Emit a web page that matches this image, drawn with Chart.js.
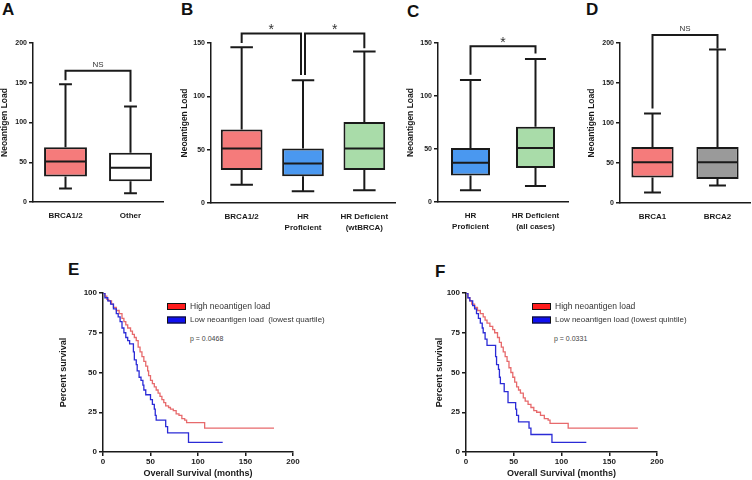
<!DOCTYPE html>
<html>
<head>
<meta charset="utf-8">
<script src="https://cdn.jsdelivr.net/npm/chart.js@4"></script>
<style>
  body { margin: 0; background: #fff; width: 752px; height: 480px; position: relative; overflow: hidden; font-family: 'Liberation Sans', Arial, sans-serif; }
  canvas { position: absolute; }
  .tag { position: absolute; font-weight: bold; font-size: 17px; line-height: 1; color: #111; }
  .pval { position: absolute; font-size: 7px; line-height: 1; color: #444; }
</style>
</head>
<body>
<div class="tag" style="left:2px;top:1px">A</div>
<div class="tag" style="left:181px;top:1px">B</div>
<div class="tag" style="left:407px;top:3px">C</div>
<div class="tag" style="left:586px;top:1px">D</div>
<div class="tag" style="left:68px;top:261px">E</div>
<div class="tag" style="left:435px;top:263px">F</div>
<div class="pval" style="left:190px;top:335px">p = 0.0468</div>
<div class="pval" style="left:554px;top:335px">p = 0.0331</div>
<script>
// ---- panel A ----
const aLabels = ['BRCA1/2', 'Other'];
const aLow = [17, 11];
const aQ1 = [32, 26];
const aMed = [51, 43];
const aQ3 = [69, 62];
const aHigh = [148, 120];
const aBrackets = [{ from: 0, to: 1, top: 165, legs: [153, 126], mark: 'NS' }];

// ---- panel B ----
const bLabels = ['BRCA1/2', ['HR', 'Proficient'], ['HR Deficient', '(wtBRCA)']];
const bLow = [17, 11, 12];
const bQ1 = [31, 25, 31];
const bMed = [51, 37, 51];
const bQ3 = [69, 51, 76];
const bHigh = [146, 115, 142];
const bBrackets = [
  { from: 0, to: 1, top: 159, legs: [150, 120], mark: '*' },
  { from: 1, to: 2, top: 159, legs: [120, 145], mark: '*' }
];

// ---- panel C ----
const cLabels = [['HR', 'Proficient'], ['HR Deficient', '(all cases)']];
const cLow = [11, 15];
const cQ1 = [25, 32];
const cMed = [37, 51];
const cQ3 = [51, 71];
const cHigh = [115, 135];
const cBrackets = [{ from: 0, to: 1, top: 147, legs: [120, 140], mark: '*' }];

// ---- panel D ----
const dLabels = ['BRCA1', 'BRCA2'];
const dLow = [13, 22];
const dQ1 = [32, 30];
const dMed = [51, 51];
const dQ3 = [70, 70];
const dHigh = [112, 192];
const dBrackets = [{ from: 0, to: 1, top: 210, legs: [118, 193], mark: 'NS' }];

// ---- panel E (Kaplan-Meier, lowest quartile) ----
const eHighT = [0, 2, 4, 6, 9, 11, 14, 17, 20, 22, 24, 26, 29, 31, 33, 35, 37, 39, 41, 43, 45, 47, 48, 50, 52, 54, 56, 58, 60, 62, 64, 66, 69, 71, 74, 77, 80, 83, 86, 88, 107, 180];
const eHighS = [100, 98, 96, 95, 93, 91, 89, 87, 84, 82, 80, 78, 76, 74, 72, 70, 66, 63, 60, 57, 54, 51, 48, 45, 43, 41, 39, 37, 35, 33, 31, 29, 28, 27, 26, 24, 23, 21, 20, 18.5, 15, 15];
const eLowT = [0, 2, 5, 8, 11, 14, 16, 18, 20, 22, 24, 26, 28, 32, 33, 35, 36, 38, 40, 42, 43, 45, 50, 52, 54, 55, 56, 66, 68, 90, 126];
const eLowS = [100, 97, 95, 93, 90, 87, 85, 82, 78, 75, 72, 70, 68, 63, 58, 55, 51, 47, 45, 42, 39, 36, 33, 30, 27, 23, 20, 16, 12, 6, 6];

// ---- panel F (Kaplan-Meier, lowest quintile) ----
const fHighT = [0, 2, 4, 6, 9, 12, 15, 18, 20, 22, 25, 28, 30, 33, 35, 37, 39, 41, 43, 45, 47, 49, 51, 53, 55, 57, 60, 62, 65, 68, 71, 74, 78, 82, 86, 88, 107, 180];
const fHighS = [100, 97, 95, 93, 91, 89, 87, 85, 83, 81, 79, 77, 75, 72, 69, 66, 63, 60, 57, 53, 50, 47, 44, 41, 39, 37, 34, 32, 30, 28, 26, 25, 23, 21, 20, 18, 15, 15];
const fLowT = [0, 2, 4, 7, 9, 11, 13, 15, 17, 18, 20, 22, 31, 32, 34, 35, 36, 40, 44, 52, 53, 55, 66, 68, 90, 126];
const fLowS = [100, 97, 95, 92, 90, 87, 84, 81, 78, 75, 71, 67, 60, 55, 52, 47, 43, 38, 31, 27, 23, 19, 15, 11, 6, 6];

const INK = '#1a1a1a';
const FONT = "'Liberation Sans', Arial, sans-serif";

function addCanvas(left, top, w, h) {
  const c = document.createElement('canvas');
  c.width = w;
  c.height = h;
  c.style.left = left + 'px';
  c.style.top = top + 'px';
  c.style.width = w + 'px';
  c.style.height = h + 'px';
  document.body.appendChild(c);
  return c;
}

function noPad(s) {
  s.paddingLeft = 0; s.paddingRight = 0; s.paddingTop = 0; s.paddingBottom = 0;
}

function boxPanel(p) {
  const [cl, ct, cw, ch] = p.canvas;
  const [al, at, ar, ab] = p.area;
  const canvas = addCanvas(cl, ct, cw, ch);

  const boxDraw = {
    id: 'boxDraw',
    afterDatasetsDraw(chart) {
      const ctx = chart.ctx, y = chart.scales.y, x = chart.scales.x;
      const meta = chart.getDatasetMeta(0);
      ctx.save();
      ctx.strokeStyle = INK;
      ctx.lineWidth = 2;
      ctx.lineCap = 'butt';
      meta.data.forEach(function (bar, i) {
        const cx = bar.x, half = bar.width / 2, cap = bar.width * p.cap;
        const yHi = y.getPixelForValue(p.high[i]), yLo = y.getPixelForValue(p.low[i]);
        ctx.beginPath();
        ctx.moveTo(cx, y.getPixelForValue(p.q3[i])); ctx.lineTo(cx, yHi);
        ctx.moveTo(cx - cap, yHi); ctx.lineTo(cx + cap, yHi);
        ctx.moveTo(cx, y.getPixelForValue(p.q1[i])); ctx.lineTo(cx, yLo);
        ctx.moveTo(cx - cap, yLo); ctx.lineTo(cx + cap, yLo);
        const ym = y.getPixelForValue(p.med[i]);
        ctx.moveTo(cx - half + 1, ym); ctx.lineTo(cx + half - 1, ym);
        ctx.stroke();
      });
      // significance brackets
      p.brackets.forEach(function (b, k) {
        const shift = p.shifts ? p.shifts[k] : [0, 0];
        const x1 = x.getPixelForValue(b.from) + shift[0];
        const x2 = x.getPixelForValue(b.to) + shift[1];
        const yt = y.getPixelForValue(b.top);
        ctx.beginPath();
        ctx.moveTo(x1, y.getPixelForValue(b.legs[0]));
        ctx.lineTo(x1, yt);
        ctx.lineTo(x2, yt);
        ctx.lineTo(x2, y.getPixelForValue(b.legs[1]));
        ctx.stroke();
        ctx.fillStyle = '#333';
        ctx.textAlign = 'center';
        ctx.textBaseline = 'middle';
        if (b.mark === '*') {
          ctx.font = '14px ' + FONT;
          ctx.fillText('*', (x1 + x2) / 2, yt - 3);
        } else {
          ctx.font = '8px ' + FONT;
          ctx.fillText(b.mark, (x1 + x2) / 2, yt - 6);
        }
      });
      ctx.restore();
    }
  };

  new Chart(canvas, {
    type: 'bar',
    data: {
      labels: p.labels,
      datasets: [{
        data: p.q1.map(function (v, i) { return [v, p.q3[i]]; }),
        backgroundColor: p.colors,
        borderColor: INK,
        borderWidth: 2,
        borderSkipped: false,
        barPercentage: p.barPct,
        categoryPercentage: 1
      }]
    },
    options: {
      responsive: false,
      animation: false,
      layout: { padding: { left: 0, top: at - ct, right: cl + cw - ar, bottom: 0 } },
      plugins: { legend: { display: false }, tooltip: { enabled: false } },
      scales: {
        x: {
          grid: { display: false, drawTicks: false },
          border: { color: INK, width: 1.5 },
          ticks: { color: INK, padding: 8.5, maxRotation: 0, autoSkip: false, font: { family: FONT, size: 8, weight: 'bold', lineHeight: 1.35 } },
          afterFit: function (s) { s.height = ct + ch - ab; noPad(s); }
        },
        y: {
          min: 0,
          max: p.yMax,
          ticks: { stepSize: 50, color: INK, padding: 2, font: { family: FONT, size: 7, weight: 'bold' } },
          grid: { drawOnChartArea: false, tickLength: 4, color: INK, lineWidth: 1.5 },
          border: { color: INK, width: 1.5 },
          title: { display: true, text: 'Neoantigen Load', color: INK, padding: 0, font: { family: FONT, size: 8.5, weight: 'bold' } },
          afterFit: function (s) { s.width = al - cl; noPad(s); }
        }
      }
    },
    plugins: [boxDraw]
  });
}

function kmPanel(p) {
  const [cl, ct, cw, ch] = p.canvas;
  const [al, at, ar, ab] = p.area;
  const canvas = addCanvas(cl, ct, cw, ch);

  const kmLegend = {
    id: 'kmLegend',
    afterDraw(chart) {
      const ctx = chart.ctx, a = chart.chartArea;
      ctx.save();
      chart.data.datasets.forEach(function (ds) {
        const j = ds.legendRow;
        const bx = a.left + p.legendDx, by = a.top + 10 + j * 13.5;
        ctx.fillStyle = ds.swatch;
        ctx.fillRect(bx, by, 19, 7);
        ctx.strokeStyle = '#111';
        ctx.lineWidth = 1;
        ctx.strokeRect(bx + 0.5, by + 0.5, 18, 6);
        ctx.fillStyle = '#333';
        ctx.font = (j === 0 ? '8.5px ' : '8px ') + FONT;
        ctx.textAlign = 'left';
        ctx.textBaseline = 'middle';
        ctx.fillText(ds.label, bx + 23, by + 3.5);
      });
      ctx.restore();
    }
  };

  function pts(t, s) { return t.map(function (v, i) { return { x: v, y: s[i] }; }); }

  new Chart(canvas, {
    type: 'line',
    data: {
      datasets: [{
        label: 'High neoantigen load',
        data: pts(p.hiT, p.hiS),
        borderColor: '#e76a6c',
        swatch: '#ff1c1c',
        legendRow: 0,
        order: 2,
        borderWidth: 1.3,
        stepped: 'before',
        pointRadius: 0,
        fill: false
      }, {
        label: p.lowName,
        data: pts(p.loT, p.loS),
        borderColor: '#2b2bd6',
        swatch: '#1010f0',
        legendRow: 1,
        order: 1,
        borderWidth: 1.3,
        stepped: 'before',
        pointRadius: 0,
        fill: false
      }]
    },
    options: {
      responsive: false,
      animation: false,
      layout: { padding: { left: 0, top: at - ct, right: cl + cw - ar, bottom: 0 } },
      plugins: { legend: { display: false }, tooltip: { enabled: false } },
      scales: {
        x: {
          type: 'linear',
          min: 0,
          max: 200,
          ticks: { stepSize: 50, color: INK, padding: 1, maxRotation: 0, font: { family: FONT, size: 8, weight: 'bold' } },
          grid: { drawOnChartArea: false, tickLength: 4, color: INK, lineWidth: 1.5 },
          border: { color: INK, width: 1.5 },
          title: { display: true, text: 'Overall Survival (months)', color: INK, padding: { top: 0, bottom: 1.5 }, font: { family: FONT, size: 9, weight: 'bold' } },
          afterFit: function (s) { s.height = ct + ch - ab; noPad(s); }
        },
        y: {
          min: 0,
          max: 100,
          ticks: { stepSize: 25, color: INK, padding: 2, font: { family: FONT, size: 8, weight: 'bold' } },
          grid: { drawOnChartArea: false, tickLength: 4, color: INK, lineWidth: 1.5 },
          border: { color: INK, width: 1.5 },
          title: { display: true, text: 'Percent survival', color: INK, padding: 0, font: { family: FONT, size: 9, weight: 'bold' } },
          afterFit: function (s) { s.width = al - cl; noPad(s); }
        }
      }
    },
    plugins: [kmLegend]
  });
}

const RED = '#f57b7b', BLUE = '#4a98f0', GREEN = '#a9dca9', GRAY = '#9a9a9a', WHITE = '#ffffff';

boxPanel({ canvas: [0, 15, 175, 220], area: [33, 43, 163, 202], labels: aLabels, low: aLow, q1: aQ1, med: aMed, q3: aQ3, high: aHigh,
  colors: [RED, WHITE], yMax: 200, barPct: 0.66, cap: 0.15, brackets: aBrackets });
boxPanel({ canvas: [180, 15, 225, 220], area: [211, 43, 395, 203], labels: bLabels, low: bLow, q1: bQ1, med: bMed, q3: bQ3, high: bHigh,
  colors: [RED, BLUE, GREEN], yMax: 150, barPct: 0.68, cap: 0.27, brackets: bBrackets, shifts: [[0, -2], [2, 0]] });
boxPanel({ canvas: [406, 15, 172, 220], area: [438, 43, 568, 202], labels: cLabels, low: cLow, q1: cQ1, med: cMed, q3: cQ3, high: cHigh,
  colors: [BLUE, GREEN], yMax: 150, barPct: 0.6, cap: 0.27, brackets: cBrackets });
boxPanel({ canvas: [587, 15, 165, 220], area: [620, 43, 750, 203], labels: dLabels, low: dLow, q1: dQ1, med: dMed, q3: dQ3, high: dHigh,
  colors: [RED, GRAY], yMax: 200, barPct: 0.65, cap: 0.2, brackets: dBrackets });

kmPanel({ canvas: [58, 280, 370, 200], area: [103, 293, 293, 452], hiT: eHighT, hiS: eHighS, loT: eLowT, loS: eLowS,
  lowName: 'Low neoantigen load  (lowest quartile)', legendDx: 64 });
kmPanel({ canvas: [434, 280, 318, 200], area: [466, 293, 657, 452], hiT: fHighT, hiS: fHighS, loT: fLowT, loS: fLowS,
  lowName: 'Low neoantigen load (lowest quintile)', legendDx: 66 });
</script>
</body>
</html>
